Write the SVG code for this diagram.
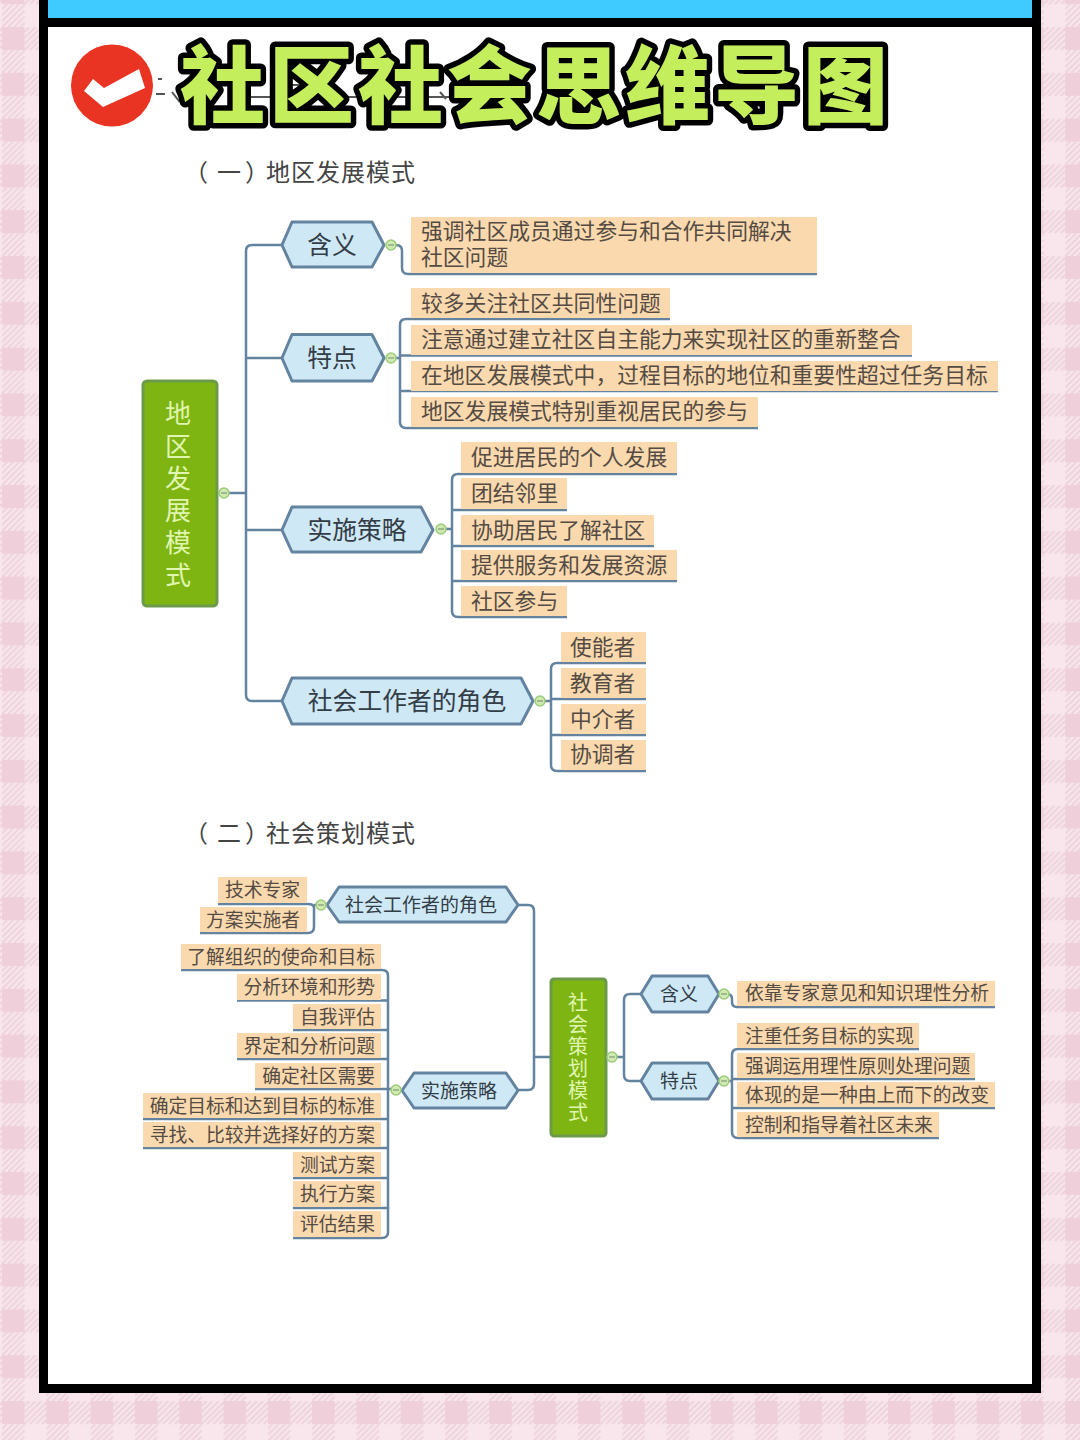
<svg xmlns="http://www.w3.org/2000/svg" width="1080" height="1440" viewBox="0 0 1080 1440">
<style>
text{font-family:"Noto Sans CJK SC","Noto Sans",sans-serif}
.title{font-size:85px;font-weight:900;fill:#c4ee5c;stroke:#000;stroke-width:11px;stroke-linejoin:round;paint-order:stroke fill}
.sec{font-size:24px;fill:#444}
.l1{font-size:21.8px;fill:#544c44}
.l2{font-size:18.8px;fill:#544c44}
.h1{font-size:24.8px;fill:#333d46;text-anchor:middle}
.h2{font-size:19px;fill:#333d46;text-anchor:middle}
.hub{fill:#e0f5b0;text-anchor:middle}
.leaf{fill:#fbd9ae}
.hex{fill:#cfe8f6;stroke:#64839f;stroke-width:3;stroke-linejoin:round}
.hubr{fill:#7fb512;stroke:#6c9a4a;stroke-width:3}
.ln{fill:none;stroke:#64839f;stroke-width:2.5;stroke-linejoin:round}
.bub{fill:#cfe9b0;stroke:#9ccb7c;stroke-width:1.5}
.dash{fill:none;stroke:#7d9a78;stroke-width:1.2}
.end{text-anchor:end}
</style>
<defs>
<pattern id="check" x="2" y="27" width="44.3" height="45.8" patternUnits="userSpaceOnUse">
<rect width="44.3" height="45.8" fill="#f8e6ec"/>
<rect width="22.5" height="23" fill="#eecfda"/>
<g stroke="#eed3dc" stroke-width="2">
<path d="M22.5 5L27.5 0M22.5 11L33.5 0M22.5 17L39.5 0M22.5 23L44.3 1.5M28 23L44.3 7M34 23L44.3 13M40 23L44.3 19"/>
<path d="M0 28L5 23M0 34L11 23M0 40L17 23M0 46L22.5 23.5M6 46L22.5 29.5M12 46L22.5 35.500M18 46L22.5 41.5"/>
</g>
</pattern>
<g id="bubble"><circle class="bub" r="5"/><path class="dash" d="M-3 0H3"/></g>
</defs>
<rect width="1080" height="1440" fill="url(#check)"/>
<rect x="39" y="0" width="1002" height="1393" fill="#000"/>
<rect x="48" y="0" width="984" height="18" fill="#3fcbff"/>
<rect x="48" y="27" width="984" height="1357" fill="#fff"/>

<g id="badge">
<circle cx="112" cy="85.500" r="41" fill="#e93323"/>
<path d="M84 91L93 79L104 88L139 69L145 88L103 107Z" fill="#fff"/>
</g>
<g id="ghost" stroke="#555" stroke-width="2" fill="none">
<path d="M158 79h4M156 94h9M172 92l7 9 5-7M250 84v16M270 85h60M240 97h210M440 92l6 7"/>
</g>
<text class="title" x="180" y="117" textLength="708" lengthAdjust="spacing">社区社会思维导图</text>
<g id="sec1"><text class="sec" x="184" y="181">（</text><text class="sec" x="217" y="181">一</text><text class="sec" x="245" y="181">）</text><text class="sec" x="266" y="181" textLength="149">地区发展模式</text></g>
<g id="sec2"><text class="sec" x="184" y="842">（</text><text class="sec" x="217" y="842">二</text><text class="sec" x="245" y="842">）</text><text class="sec" x="266" y="842" textLength="149">社会策划模式</text></g>

<g id="connectors">
<path class="ln" d="M224 493H246M281 245H252Q246 245 246 251V695Q246 701 252 701H281M246 358Q246 358 252 358H281M246 530H281"/>
<path class="ln" d="M391 245H396Q402 245 402 251V268Q402 274 408 274H817"/>
<path class="ln" d="M391 358H400M670 319H406Q400 319 400 325V422Q400 428 406 428H758M400 355.500H912M400 391H998"/>
<path class="ln" d="M441 529H452M677 474H458Q452 474 452 480V611Q452 617 458 617H567M452 510H567M452 546H654M452 581H677"/>
<path class="ln" d="M540 701H551M646 663H557Q551 663 551 669V765Q551 771 557 771H646M551 699H646M551 735H646"/>
<path class="ln" d="M218 904H308Q314 904 314 908V927Q314 933 308 933H200M314 905H321"/>
<path class="ln" d="M518 905H528Q534 905 534 911V1084Q534 1090 528 1090H518M534 1057H551"/>
<path class="ln" d="M181 970H382Q388 970 388 976V1232Q388 1238 382 1238H293M237 1000.500H388M293 1030H388M237 1059H388M255 1089H396M143 1119H388M143 1148H388M293 1178H388M293 1208H388"/>
<path class="ln" d="M606 1057H624M641 994H630Q624 994 624 1000V1075Q624 1081 630 1081H641"/>
<path class="ln" d="M724 994H727Q732 994 732 999V1002Q732 1007 737 1007H995"/>
<path class="ln" d="M724 1081H732M919 1049H738Q732 1049 732 1055V1132Q732 1138 738 1138H939M732 1079H975M732 1108H995"/>
</g>

<g id="map1-root"><rect class="hubr" x="143" y="381" width="74" height="225" rx="4"/>
<text class="hub" font-size="26"><tspan x="178" y="423">地</tspan><tspan x="178" y="456">区</tspan><tspan x="178" y="488">发</tspan><tspan x="178" y="520">展</tspan><tspan x="178" y="552">模</tspan><tspan x="178" y="585">式</tspan></text>
<use href="#bubble" x="224" y="493"/></g>

<g id="n-hanyi"><path class="hex" d="M282 245L292 222H372L384 245L372 267H292Z"/><text class="h1" x="332" y="254">含义</text><use href="#bubble" x="391" y="245"/></g>
<g id="n-tedian"><path class="hex" d="M282 358L292 334.500H372L384 358L372 381H292Z"/><text class="h1" x="332" y="367">特点</text><use href="#bubble" x="391" y="358"/></g>
<g id="n-celue"><path class="hex" d="M282 530L292 507H421L433 530L421 552H292Z"/><text class="h1" x="357" y="539">实施策略</text><use href="#bubble" x="441" y="529"/></g>
<g id="n-juese"><path class="hex" d="M282 701L292 678H521L533 701L521 724H292Z"/><text class="h1" x="407" y="710">社会工作者的角色</text><use href="#bubble" x="540" y="701"/></g>

<g id="l1a"><rect class="leaf" x="411" y="217" width="406" height="56"/><text class="l1" x="421" y="239">强调社区成员通过参与和合作共同解决</text><text class="l1" x="421" y="265">社区问题</text></g>
<g id="l1b"><rect class="leaf" x="411" y="288" width="259" height="30"/><text class="l1" x="421" y="311">较多关注社区共同性问题</text></g>
<g id="l1c"><rect class="leaf" x="411" y="325" width="501" height="30"/><text class="l1" x="421" y="347">注意通过建立社区自主能力来实现社区的重新整合</text></g>
<g id="l1d"><rect class="leaf" x="411" y="361" width="587" height="30"/><text class="l1" x="421" y="383">在地区发展模式中，过程目标的地位和重要性超过任务目标</text></g>
<g id="l1e"><rect class="leaf" x="411" y="397" width="347" height="30"/><text class="l1" x="421" y="419">地区发展模式特别重视居民的参与</text></g>

<g id="l2a"><rect class="leaf" x="461" y="442" width="216" height="31"/><text class="l1" x="471" y="465">促进居民的个人发展</text></g>
<g id="l2b"><rect class="leaf" x="461" y="478" width="106" height="31"/><text class="l1" x="471" y="501">团结邻里</text></g>
<g id="l2c"><rect class="leaf" x="461" y="515" width="193" height="30"/><text class="l1" x="471" y="538">协助居民了解社区</text></g>
<g id="l2d"><rect class="leaf" x="461" y="550" width="216" height="30"/><text class="l1" x="471" y="573">提供服务和发展资源</text></g>
<g id="l2e"><rect class="leaf" x="461" y="586" width="106" height="30"/><text class="l1" x="471" y="609">社区参与</text></g>

<g id="l3a"><rect class="leaf" x="561" y="632" width="85" height="30"/><text class="l1" x="570" y="655">使能者</text></g>
<g id="l3b"><rect class="leaf" x="561" y="668" width="85" height="30"/><text class="l1" x="570" y="691">教育者</text></g>
<g id="l3c"><rect class="leaf" x="561" y="704" width="85" height="30"/><text class="l1" x="570" y="727">中介者</text></g>
<g id="l3d"><rect class="leaf" x="561" y="740" width="85" height="30"/><text class="l1" x="570" y="762">协调者</text></g>

<g id="map2-root"><rect class="hubr" x="551" y="979" width="55" height="157" rx="3"/>
<text class="hub" font-size="20"><tspan x="578" y="1010">社</tspan><tspan x="578" y="1032">会</tspan><tspan x="578" y="1054">策</tspan><tspan x="578" y="1076">划</tspan><tspan x="578" y="1098">模</tspan><tspan x="578" y="1120">式</tspan></text>
<use href="#bubble" x="612" y="1057"/></g>

<g id="m2-juese"><path class="hex" d="M327 905L339 887H506L518 905L506 922H339Z"/><text class="h2" x="421" y="912">社会工作者的角色</text><use href="#bubble" x="321" y="905"/></g>
<g id="m2-celue"><path class="hex" d="M402 1090.500L414 1073H506L518 1090.500L506 1108H414Z"/><text class="h2" x="459" y="1098">实施策略</text><use href="#bubble" x="396" y="1090"/></g>
<g id="m2-hanyi"><path class="hex" d="M641 994L652 976H708L719 994L708 1012H652Z"/><text class="h2" x="679" y="1001">含义</text><use href="#bubble" x="724" y="994"/></g>
<g id="m2-tedian"><path class="hex" d="M641 1081L652 1063H708L719 1081L708 1099H652Z"/><text class="h2" x="679" y="1088">特点</text><use href="#bubble" x="724" y="1081"/></g>

<g id="m2-l1"><rect class="leaf" x="218" y="877" width="89" height="26"/><text class="l2 end" x="300" y="897">技术专家</text></g>
<g id="m2-l2"><rect class="leaf" x="200" y="907" width="107" height="25"/><text class="l2 end" x="300" y="927">方案实施者</text></g>
<g id="m2-s1"><rect class="leaf" x="181" y="944" width="200" height="25"/><text class="l2 end" x="375" y="964">了解组织的使命和目标</text></g>
<g id="m2-s2"><rect class="leaf" x="237" y="974" width="144" height="26"/><text class="l2 end" x="375" y="994">分析环境和形势</text></g>
<g id="m2-s3"><rect class="leaf" x="293" y="1004" width="88" height="25"/><text class="l2 end" x="375" y="1024">自我评估</text></g>
<g id="m2-s4"><rect class="leaf" x="237" y="1033" width="144" height="25"/><text class="l2 end" x="375" y="1053">界定和分析问题</text></g>
<g id="m2-s5"><rect class="leaf" x="255" y="1063" width="126" height="25"/><text class="l2 end" x="375" y="1083">确定社区需要</text></g>
<g id="m2-s6"><rect class="leaf" x="143" y="1093" width="238" height="25"/><text class="l2 end" x="375" y="1113">确定目标和达到目标的标准</text></g>
<g id="m2-s7"><rect class="leaf" x="143" y="1122" width="238" height="25"/><text class="l2 end" x="375" y="1142">寻找、比较并选择好的方案</text></g>
<g id="m2-s8"><rect class="leaf" x="293" y="1152" width="88" height="25"/><text class="l2 end" x="375" y="1172">测试方案</text></g>
<g id="m2-s9"><rect class="leaf" x="293" y="1181" width="88" height="26"/><text class="l2 end" x="375" y="1201">执行方案</text></g>
<g id="m2-s10"><rect class="leaf" x="293" y="1211" width="88" height="26"/><text class="l2 end" x="375" y="1231">评估结果</text></g>

<g id="m2-r1"><rect class="leaf" x="737" y="981" width="258" height="25"/><text class="l2" x="745" y="1000">依靠专家意见和知识理性分析</text></g>
<g id="m2-r2"><rect class="leaf" x="737" y="1023" width="182" height="25"/><text class="l2" x="745" y="1043">注重任务目标的实现</text></g>
<g id="m2-r3"><rect class="leaf" x="737" y="1053" width="238" height="25"/><text class="l2" x="745" y="1073">强调运用理性原则处理问题</text></g>
<g id="m2-r4"><rect class="leaf" x="737" y="1082" width="258" height="25"/><text class="l2" x="745" y="1102">体现的是一种由上而下的改变</text></g>
<g id="m2-r5"><rect class="leaf" x="737" y="1112" width="202" height="25"/><text class="l2" x="745" y="1132">控制和指导着社区未来</text></g>
</svg>
